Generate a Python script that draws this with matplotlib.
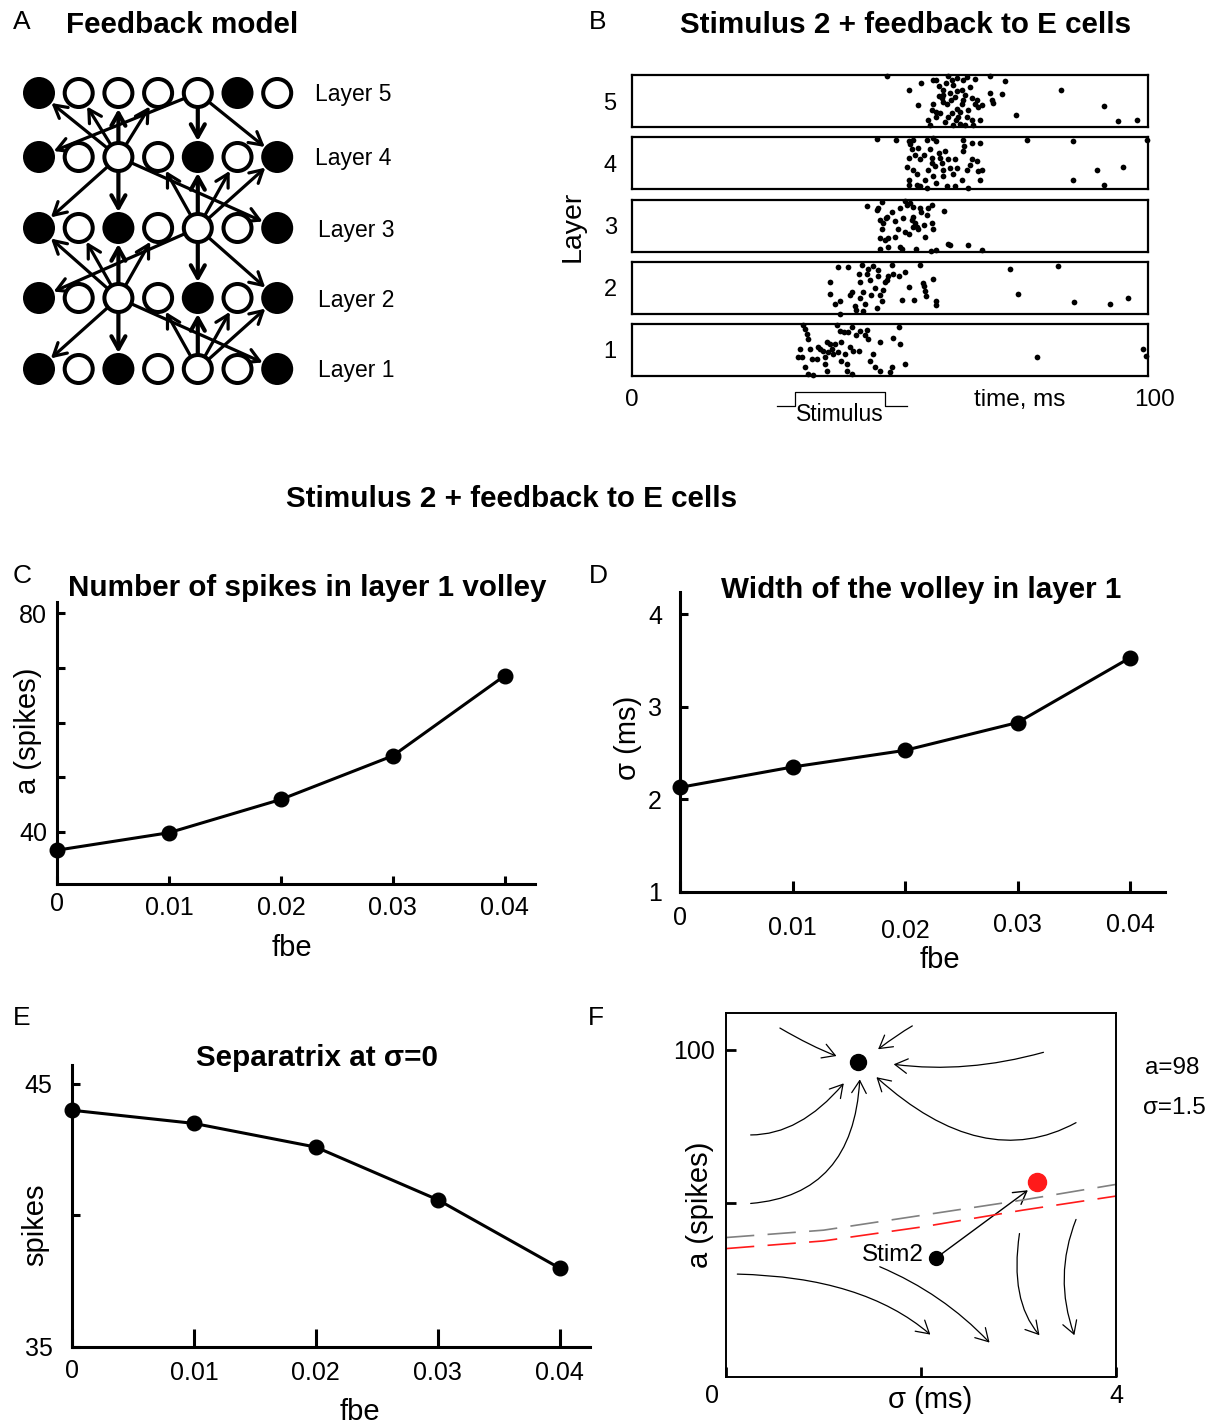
import matplotlib
matplotlib.use("Agg")
import matplotlib.pyplot as plt
from matplotlib.patches import Circle, FancyArrowPatch
from matplotlib.path import Path
from matplotlib.transforms import ScaledTranslation, blended_transform_factory

plt.rcParams['font.family'] = ['Liberation Sans', 'DejaVu Sans']

# ---------------- data ----------------
# A: network sketch, 1 = filled (inhibitory) cell, 0 = open (excitatory) cell
layer_cells = {
    5: [1, 0, 0, 0, 0, 1, 0],
    4: [1, 0, 0, 0, 1, 0, 1],
    3: [1, 0, 1, 0, 0, 0, 1],
    2: [1, 0, 0, 0, 1, 0, 1],
    1: [1, 0, 1, 0, 0, 0, 1],
}
# (source layer, source cell, target layer, target cells)
links = [
    (1, 4, 2, [3, 4, 5, 6]),
    (2, 2, 1, [0, 2, 6]),
    (2, 2, 3, [0, 1, 2, 3]),
    (3, 4, 2, [0, 4, 6]),
    (3, 4, 4, [3, 4, 5, 6]),
    (4, 2, 3, [0, 2, 6]),
    (4, 2, 5, [0, 1, 2, 3]),
    (5, 4, 4, [0, 4, 6]),
]

# B: spike rasters, (time ms, neuron position 0-100)
spikes5 = [(49.4, 98), (53.6, 71), (55.5, 42), (56.1, 85), (57.4, 14), (57.8, 3), (58.1, 32), (58.4, 90),
           (59.0, 90), (59.4, 79), (59.0, 29), (59.7, 26), (60.0, 55), (60.3, 61), (60.3, 48), (60.7, 10),
           (61.0, 45), (61.3, 98), (61.6, 65), (62.0, 90), (62.0, 26), (62.3, 81), (62.3, 3), (62.6, 58),
           (62.9, 94), (62.9, 35), (63.2, 19), (63.6, 29), (63.6, 6), (63.9, 71), (63.9, 45), (64.2, 90),
           (64.2, 52), (64.5, 3), (64.9, 97), (64.9, 19), (65.2, 32), (65.5, 77), (65.8, 55), (66.1, 3),
           (66.5, 92), (66.5, 45), (66.8, 52), (67.1, 39), (67.4, 13), (67.8, 42), (69.4, 98), (69.4, 65),
           (69.7, 52), (70.0, 46), (71.8, 63), (72.3, 89), (74.5, 24), (83.1, 71), (91.5, 41), (94.1, 12),
           (97.9, 14), (60.2, 71), (61.3, 19), (62.8, 13), (65.8, 13), (58.4, 45), (59.5, 60),
           (61.8, 52), (63.0, 70), (64.6, 62), (60.8, 84), (58.9, 20)]
spikes4 = [(47.4, 97), (51.2, 95), (53.6, 92), (53.9, 86), (53.6, 60), (53.2, 43), (53.6, 18), (53.6, 8),
           (54.2, 76), (54.5, 95), (54.5, 37), (54.8, 65), (55.2, 28), (55.2, 8), (55.5, 79), (55.8, 57),
           (55.8, 5), (56.5, 66), (56.8, 18), (57.1, 95), (57.1, 1), (57.4, 37), (57.8, 76), (58.1, 60),
           (58.1, 50), (58.4, 99), (58.4, 25), (58.7, 44), (59.0, 92), (59.0, 12), (59.4, 70), (59.7, 60),
           (60.0, 50), (60.3, 37), (60.3, 25), (60.7, 73), (61.0, 5), (61.3, 57), (61.6, 41), (62.3, 28),
           (62.6, 57), (62.6, 5), (62.9, 41), (63.9, 18), (64.1, 73), (64.2, 95), (64.3, 83), (64.9, 37),
           (65.2, 2), (65.5, 47), (65.8, 89), (65.8, 57), (66.8, 54), (67.1, 34), (67.4, 89), (67.4, 17),
           (67.8, 37), (76.6, 95), (85.5, 92), (85.5, 18), (90.2, 37), (91.5, 8), (95.2, 43), (99.9, 94)]
spikes3 = [(45.6, 88), (47.4, 81), (47.7, 84), (48.1, 61), (48.1, 26), (48.1, 6), (48.4, 97), (48.4, 45),
           (48.7, 55), (49.0, 23), (49.2, 65), (49.4, 68), (49.7, 10), (49.7, 27), (50.3, 76), (51.0, 59),
           (51.0, 29), (51.6, 45), (51.9, 84), (51.9, 10), (52.3, 6), (52.6, 65), (52.9, 98), (52.9, 39),
           (53.2, 90), (53.6, 35), (53.9, 94), (54.2, 61), (54.5, 87), (54.5, 68), (54.5, 48), (54.8, 55),
           (55.2, 48), (55.5, 45), (55.8, 84), (56.1, 77), (56.5, 52), (56.8, 29), (57.1, 71), (57.4, 84),
           (58.1, 90), (58.1, 55), (58.4, 45), (55.0, 5), (57.9, 1), (59.0, 3), (60.5, 79), (61.3, 16),
           (61.6, 13), (65.2, 14), (67.9, 3)]
spikes2 = [(38.4, 62), (38.4, 39), (39.3, 19), (40.0, 90), (40.3, 25), (40.3, 0), (41.9, 90), (42.2, 37),
           (42.6, 43), (43.2, 15), (43.5, 8), (43.9, 76), (44.2, 62), (44.2, 31), (44.5, 95), (44.8, 43),
           (44.8, 5), (45.2, 19), (45.5, 76), (45.8, 86), (46.1, 66), (46.4, 37), (46.8, 92), (47.1, 50),
           (47.4, 12), (47.7, 84), (47.7, 73), (48.1, 37), (48.4, 25), (48.7, 47), (49.0, 62), (49.4, 66),
           (49.7, 73), (50.3, 94), (50.6, 76), (51.8, 73), (52.3, 26), (52.9, 81), (53.7, 52), (54.6, 26),
           (55.8, 95), (56.3, 60), (56.6, 54), (56.8, 44), (57.0, 34), (58.4, 68), (58.9, 25), (59.0, 18),
           (73.3, 86), (74.9, 39), (82.5, 92), (85.7, 23), (92.6, 19), (96.2, 31)]
spikes1 = [(33.2, 99), (33.5, 90), (33.9, 81), (34.2, 71), (32.6, 52), (32.2, 37), (32.9, 37), (33.5, 18),
           (34.2, 4), (34.8, 33), (35.1, 1), (34.5, 52), (35.8, 33), (36.1, 56), (36.4, 52), (37.1, 49),
           (37.4, 36), (37.4, 23), (37.7, 65), (37.7, 10), (38.0, 46), (38.4, 62), (38.7, 52), (39.0, 42),
           (39.3, 62), (39.7, 99), (40.0, 46), (40.3, 87), (40.6, 65), (40.6, 29), (41.0, 84), (41.3, 42),
           (41.6, 23), (41.6, 10), (41.9, 84), (42.2, 55), (42.6, 94), (42.6, 4), (42.9, 49), (43.5, 78),
           (43.9, 49), (44.2, 86), (45.2, 78), (45.6, 88), (45.8, 71), (46.1, 29), (46.8, 42), (47.1, 17),
           (48.1, 65), (48.1, 10), (50.0, 7), (50.3, 17), (50.6, 74), (51.8, 95), (51.9, 62), (52.9, 23),
           (78.4, 37), (99.1, 52), (99.7, 39)]
raster = {5: spikes5, 4: spikes4, 3: spikes3, 2: spikes2, 1: spikes1}
stim_on, stim_off = 31.6, 49.0

# C, D, E
fbe = [0, 0.01, 0.02, 0.03, 0.04]
spikes_l1 = [36.6, 39.8, 45.9, 53.9, 68.6]
width_l1 = [2.13, 2.35, 2.53, 2.83, 3.53]
separatrix = [44.0, 43.5, 42.6, 40.6, 38.0]

# F: phase plane (sigma ms, a spikes)
sep_sigma = [0, 1.0, 2.02, 3.04, 4.0]
sep_gray = [38.9, 41.3, 46.2, 51.1, 56.2]
sep_red = [35.3, 37.8, 42.4, 47.8, 52.4]
attractor = (1.355, 95.9)
stim2 = (2.157, 32.3)
stim2_end = (3.096, 54.3)
red_point = (3.19, 57.1)
# flow lines: start, control, end
flows = [
    ((0.553, 107.1), (0.877, 101.1), (1.133, 98.0)),
    ((1.911, 107.8), (1.754, 104.9), (1.560, 100.2)),
    ((3.256, 99.2), (2.464, 92.2), (1.720, 95.3)),
    ((0.253, 72.3), (0.758, 72.3), (1.208, 89.1)),
    ((0.253, 50.0), (1.304, 52.7), (1.372, 90.4)),
    ((3.590, 76.3), (2.635, 59.8), (1.543, 91.1)),
    ((0.116, 27.0), (1.406, 26.1), (2.096, 7.3)),
    ((1.577, 29.4), (2.225, 20.7), (2.703, 4.7)),
    ((3.010, 40.2), (2.908, 18.5), (3.215, 7.1)),
    ((3.590, 44.8), (3.358, 26.1), (3.573, 7.1)),
]

# ---------------- figure ----------------
W, H = 1212, 1427
fig = plt.figure(figsize=(W / 100, H / 100), dpi=100)


def px_axes(x0, y0, x1, y1):
    return fig.add_axes([x0 / W, 1 - y1 / H, (x1 - x0) / W, (y1 - y0) / H])


def ftext(x, y, s, size, **kw):
    kw.setdefault('ha', 'center')
    kw.setdefault('va', 'center')
    fig.text(x / W, 1 - y / H, s, fontsize=size, **kw)


def shift(label, dx=0, dy=0):
    label.set_transform(label.get_transform() +
                        ScaledTranslation(dx / 100, -dy / 100, fig.dpi_scale_trans))


TITLE = 21.3

# panel letters and titles
for s, x, y in [('A', 22, 22), ('B', 598, 22), ('C', 22, 576), ('D', 598, 576),
                ('E', 22, 1018), ('F', 596, 1018)]:
    ftext(x, y, s, 19)
ftext(66, 25, 'Feedback model', TITLE, weight='bold', ha='left')
ftext(906, 25, 'Stimulus 2 + feedback to E cells', TITLE, weight='bold')
ftext(512, 499, 'Stimulus 2 + feedback to E cells', TITLE, weight='bold')

# ---- A ----
axA = px_axes(0, 60, 420, 400)
axA.set_xlim(0, 420)
axA.set_ylim(400, 60)
axA.axis('off')
row_y = {5: 93, 4: 157, 3: 228, 2: 298, 1: 369}
col_x = [39 + 39.7 * i for i in range(7)]
for L, cells in layer_cells.items():
    for i, filled in enumerate(cells):
        if filled:
            c = Circle((col_x[i], row_y[L]), 16, fc='k', ec='none', zorder=3)
        else:
            c = Circle((col_x[i], row_y[L]), 14, fc='white', ec='k', lw=2.9, zorder=3)
        axA.add_patch(c)
    axA.text(315 if L >= 4 else 318, row_y[L] + 2, 'Layer %d' % L, fontsize=16.5, va='center')
for sL, sc, tL, tcs in links:
    for tc in tcs:
        arr = FancyArrowPatch((col_x[sc], row_y[sL]), (col_x[tc], row_y[tL]),
                              arrowstyle='->,head_length=0.5,head_width=0.28', mutation_scale=18,
                              shrinkA=11, shrinkB=11.5, lw=3.0 if tc == sc else 2.3,
                              color='k', zorder=2)
        axA.add_patch(arr)

# ---- B ----
box_top = {5: 75, 4: 137, 3: 200, 2: 262, 1: 324}
for L in [5, 4, 3, 2, 1]:
    ax = px_axes(632, box_top[L], 1148, box_top[L] + 52)
    t = [p[0] for p in raster[L]]
    n = [p[1] for p in raster[L]]
    ax.scatter(t, n, s=17, c='k', lw=0, clip_on=False, zorder=3)
    ax.set_xlim(0, 100)
    ax.set_ylim(0, 100)
    ax.set_xticks([])
    ax.set_yticks([50])
    ax.set_yticklabels([str(L)])
    ax.tick_params(axis='y', length=0, pad=11, labelsize=17)
    for sp in ax.spines.values():
        sp.set_linewidth(1.6)
    if L == 1:
        axL1 = ax
tr = blended_transform_factory(axL1.transData, axL1.transAxes)
axL1.plot([stim_on - 3.5, stim_on, stim_on, stim_off, stim_off, stim_off + 4.3],
          [-0.577, -0.577, -0.308, -0.308, -0.577, -0.577],
          color='k', lw=0.9, transform=tr, clip_on=False)
axL1.text((stim_on + stim_off) / 2, -0.74, 'Stimulus', fontsize=16.5, ha='center', va='center',
          transform=tr)
axL1.text(0, -0.46, '0', fontsize=17.5, ha='center', va='center', transform=tr)
axL1.text(101.3, -0.46, '100', fontsize=17.5, ha='center', va='center', transform=tr)
axL1.text(75.2, -0.46, 'time, ms', fontsize=17.5, ha='center', va='center', transform=tr)
ftext(573, 226, 'Layer', 20.5, rotation=90)


def style_line_axes(ax, xtick_len, ytick_len):
    for s in ['top', 'right']:
        ax.spines[s].set_visible(False)
    for s in ['left', 'bottom']:
        ax.spines[s].set_linewidth(2.2)
    ax.tick_params(direction='in', width=2.2, labelsize=18)
    ax.tick_params(axis='x', length=xtick_len)
    ax.tick_params(axis='y', length=ytick_len)


xlabels = ['0', '0.01', '0.02', '0.03', '0.04']

# ---- C ----
axC = px_axes(57, 602, 535, 884)
axC.plot(fbe, spikes_l1, color='k', lw=2.2, marker='o', ms=10.5, clip_on=False, zorder=3)
axC.set_xlim(0, 0.0427)
axC.set_ylim(30.4, 82.1)
axC.set_xticks(fbe)
axC.set_xticklabels(xlabels)
axC.set_yticks([40, 50, 60, 70, 80])
axC.set_yticklabels(['40', '', '', '', '80'])
style_line_axes(axC, 6, 6)
axC.tick_params(axis='x', pad=5.5)
axC.tick_params(axis='y', pad=7)
for lab in axC.get_xticklabels()[1:]:
    shift(lab, 0, 4)
ftext(68, 588, 'Number of spikes in layer 1 volley', TITLE, weight='bold', ha='left')
ftext(28, 731, 'a (spikes)', 21, rotation=90)
ftext(292, 948, 'fbe', 21)

# ---- D ----
axD = px_axes(680, 592, 1165, 892)
axD.plot(fbe, width_l1, color='k', lw=2.2, marker='o', ms=10.5, clip_on=False, zorder=3)
axD.set_xlim(0, 0.0431)
axD.set_ylim(1, 4.24)
axD.set_xticks(fbe)
axD.set_xticklabels(xlabels)
axD.set_yticks([1, 2, 3, 4])
style_line_axes(axD, 8, 6)
axD.tick_params(axis='x', pad=10)
axD.tick_params(axis='y', pad=13)
for lab, dy in zip(axD.get_xticklabels(), [0, 10, 13, 7, 7]):
    shift(lab, 0, dy)
ftext(921, 590, 'Width of the volley in layer 1', TITLE, weight='bold')
ftext(628, 738, 'σ (ms)', 21, rotation=90)
ftext(940, 960, 'fbe', 21)

# ---- E ----
axE = px_axes(72, 1065, 590, 1347)
axE.plot(fbe, separatrix, color='k', lw=2.2, marker='o', ms=10.5, clip_on=False, zorder=3)
axE.set_xlim(0, 0.0425)
axE.set_ylim(35, 45.72)
axE.set_xticks(fbe)
axE.set_xticklabels(xlabels)
axE.set_yticks([35, 40, 45])
axE.set_yticklabels(['35', '', '45'])
style_line_axes(axE, 13, 6)
axE.tick_params(axis='x', pad=8.5)
axE.tick_params(axis='y', pad=14)
for lab in axE.get_xticklabels()[1:]:
    shift(lab, 0, 2)
ftext(317, 1058, 'Separatrix at σ=0', TITLE, weight='bold')
ftext(35, 1225, 'spikes', 21, rotation=90)
ftext(360, 1412, 'fbe', 21)

# ---- F ----
axF = px_axes(726, 1013, 1116, 1377)
axF.set_xlim(0, 4)
axF.set_ylim(-6.5, 112)
axF.plot(sep_sigma, sep_gray, color='#808080', lw=1.2, dashes=(17, 8))
axF.plot(sep_sigma, sep_red, color='#ff1a1a', lw=1.2, dashes=(17, 8))
for S, C, E in flows:
    p = Path([S, C, E], [Path.MOVETO, Path.CURVE3, Path.CURVE3])
    axF.add_patch(FancyArrowPatch(path=p, arrowstyle='->,head_length=0.6,head_width=0.35',
                                  mutation_scale=15, lw=0.9, color='k'))
axF.add_patch(FancyArrowPatch(stim2, stim2_end, arrowstyle='->,head_length=0.6,head_width=0.35',
                              mutation_scale=15, lw=1.0, color='k', shrinkA=0, shrinkB=0))
axF.plot(*attractor, 'o', color='k', ms=11.5)
axF.plot(*stim2, 'o', color='k', ms=10)
axF.plot(*red_point, 'o', color='#ff1a1a', ms=13)
axF.text(stim2[0] - 0.13, stim2[1] + 1.0, 'Stim2', fontsize=17.5, ha='right', va='center')
axF.set_xticks([0, 2, 4])
axF.set_xticklabels(['0', '', '4'])
axF.set_yticks([50, 100])
axF.set_yticklabels(['', '100'])
for sp in axF.spines.values():
    sp.set_linewidth(1.4)
axF.tick_params(direction='in', length=7, width=2, labelsize=18)
axF.tick_params(axis='x', pad=5)
axF.tick_params(axis='y', pad=8)
shift(axF.get_xticklabels()[0], -14, 0)
ftext(930, 1400, 'σ (ms)', 21)
ftext(700, 1205, 'a (spikes)', 21, rotation=90)
ftext(1145, 1068, 'a=98', 17.5, ha='left')
ftext(1143, 1108, 'σ=1.5', 17.5, ha='left')

fig.savefig('out.png', dpi=100)
